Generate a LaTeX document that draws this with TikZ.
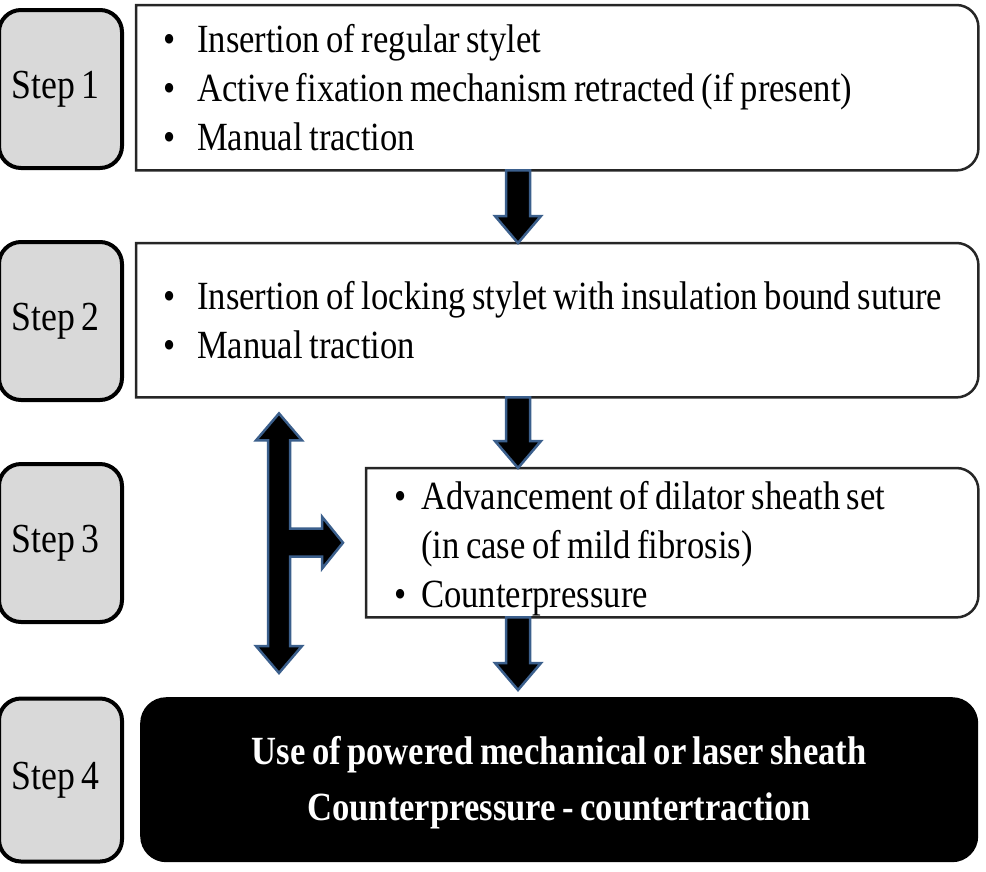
\documentclass[tikz,border=0pt]{standalone}
\usepackage{fontspec}
\setmainfont[FakeStretch=0.865,WordSpace=0.75,BoldFeatures={FakeStretch=0.865}]{Liberation Serif}
\usetikzlibrary{calc}

\definecolor{arrowblue}{HTML}{3B5F8C}

\tikzset{
  every node/.style={font=\fontsize{40}{49}\selectfont},
  stepbox/.style={draw,line width=4pt,rounded corners=22pt,fill=black!15,
    minimum width=123pt,minimum height=158pt,inner sep=0pt,
    font=\fontsize{41.3}{49}\selectfont},
  frame/.style={anchor=north west,inner sep=0pt},
  items/.style={anchor=west,align=left,inner sep=0pt},
  blockarrow/.style={fill=black,draw=arrowblue,line width=2.5pt,line join=miter},
}

\newcommand\itm[1][34pt]{\makebox[#1][l]{\textbullet}}

% box square on the left, rounded on the right
\newcommand\halfround[1]{%
  \draw[line width=2.5pt,black!85] (#1.south west) -- (#1.north west)
    -- ($(#1.north east)+(-22,0)$) arc[start angle=90,end angle=0,radius=22]
    -- ($(#1.south east)+(0,22)$) arc[start angle=0,end angle=-90,radius=22]
    -- cycle;}

% fat arrow pointing down from #1 to #2
\newcommand\bigdown[2]{%
  \filldraw[blockarrow] ($(#1)+(-12,0)$) -- ($(#2)+(-12,27)$) -- ($(#2)+(-23,27)$)
    -- (#2) -- ($(#2)+(23,27)$) -- ($(#2)+(12,27)$) -- ($(#1)+(12,0)$) -- cycle;}

\begin{document}
\begin{tikzpicture}[x=1pt,y=1pt]
\useasboundingbox (0,0) rectangle (986,-871);

\node[stepbox] (s1) at (60.5,-89) {\hspace*{-10pt}Step 1};
\node[stepbox] (s2) at (60.5,-321) {\hspace*{-10pt}Step 2};
\node[stepbox] (s3) at (60.5,-543) {\hspace*{-10pt}Step 3};
\node[stepbox,minimum height=163pt] (s4) at (60.5,-780) {\hspace*{-10pt}Step 4};

\node[frame,minimum width=842pt,minimum height=165pt] (b1) at (136,-5) {};
\node[frame,minimum width=842pt,minimum height=154pt] (b2) at (136,-243) {};
\node[frame,minimum width=612pt,minimum height=149pt] (b3) at (366,-468) {};
\halfround{b1}
\halfround{b2}
\halfround{b3}

\node[items] (t1) at ($(b1.west)+(27,0)$)
  {\itm Insertion of regular stylet\\
   \itm Active fixation mechanism retracted (if present)\\
   \itm Manual traction};
\node[items] (t2) at ($(b2.west)+(27,0)$)
  {\itm Insertion of locking stylet with insulation bound suture\\
   \itm Manual traction};
\node[items] (t3) at ($(b3.west)+(28,-6)$)
  {\itm[27pt]Advancement of dilator sheath set\\
   \hspace*{27pt}(in case of mild fibrosis)\\
   \itm[27pt]Counterpressure};

\node[frame,fill=black,rounded corners=26pt,minimum width=838pt,
  minimum height=165pt] (b4) at (140,-697) {};
\node[align=center,text=white,font=\bfseries\fontsize{40}{56}\selectfont] (t4)
  at ($(b4.center)+(0,-3)$)
  {Use of powered mechanical or laser sheath\\ Counterpressure - countertraction};

% arrows down the middle
\coordinate (mid) at (518,0);
\coordinate (a1) at (mid |- b1.south);
\coordinate (a2) at (mid |- b2.north);
\coordinate (a3) at (mid |- b2.south);
\coordinate (a4) at (mid |- b3.north);
\coordinate (a5) at (mid |- b3.south);
\coordinate (a6) at ($(mid |- b4.north)+(0,7)$);
\bigdown{a1}{a2}
\bigdown{a3}{a4}
\bigdown{a5}{a6}

% two-headed arrow with a branch to step 3
\coordinate (spine) at (279,0);
\coordinate (tt) at ($(spine |- b2.south)+(0,-16)$);
\coordinate (tb) at ($(spine |- b4.north)+(0,24)$);
\coordinate (tr) at ($(b3.west)+(-23,0)$);
\filldraw[blockarrow] (tt) -- ++(23,-27) -- ++(-12,0) |- ($(tr)+(-21,14)$)
  -- ++(0,12) -- (tr) -- ++(-21,-26) -- ++(0,12) -| ($(tb)+(11,27)$)
  -- ++(12,0) -- (tb) -- ++(-23,27) -- ++(12,0) -- ($(tt)+(-11,-27)$)
  -- ++(-12,0) -- cycle;
\end{tikzpicture}
\end{document}
